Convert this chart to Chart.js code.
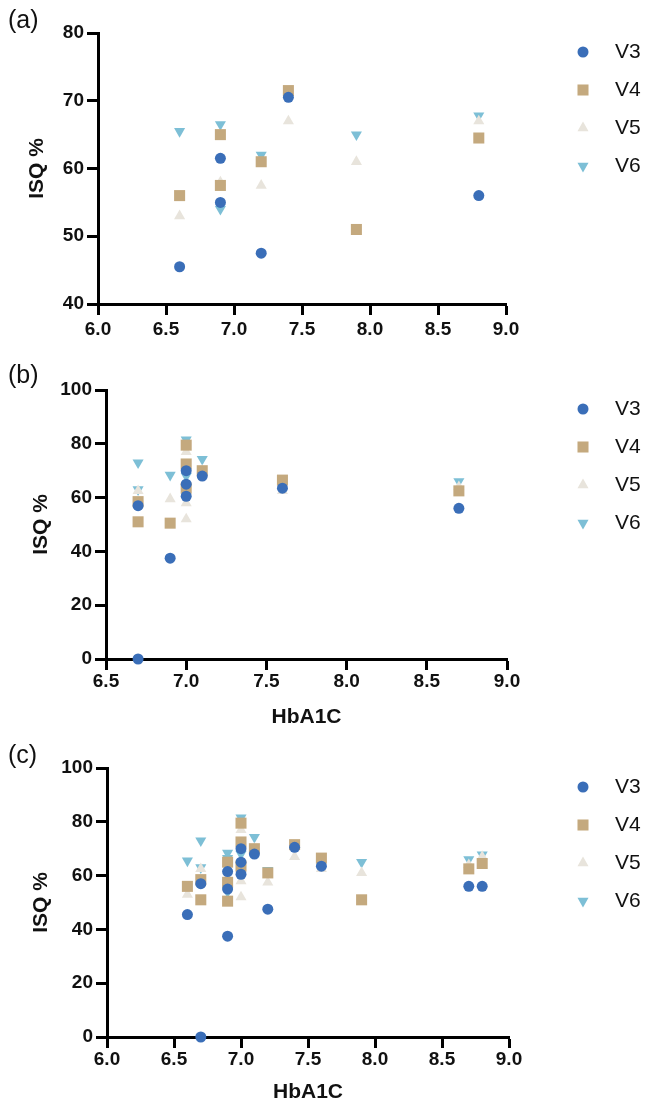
<!DOCTYPE html>
<html>
<head>
<meta charset="utf-8">
<script src="https://cdn.jsdelivr.net/npm/chart.js@4"></script>
<style>
body { margin:0; background:#fff; width:646px; height:1105px; position:relative; overflow:hidden; font-family:'Liberation Sans', Arial, sans-serif; }
canvas { position:absolute; left:0; }
.tag { position:absolute; left:8px; font-size:25px; line-height:25px; color:#111; }
</style>
</head>
<body>
<canvas id="chartA" width="646" height="350" style="top:0"></canvas>
<canvas id="chartB" width="646" height="385" style="top:350px"></canvas>
<canvas id="chartC" width="646" height="370" style="top:735px"></canvas>
<div class="tag" style="top:7px">(a)</div>
<div class="tag" style="top:362px">(b)</div>
<div class="tag" style="top:742px">(c)</div>
<script>
var seriesNames = ['V3', 'V4', 'V5', 'V6'];
var seriesColors = ['#3a6eb8', '#c4a97e', '#e8e4dc', '#7dbfd6'];

// panel (a): [HbA1C, ISQ %]
var aV3 = [[6.6, 45.5], [6.9, 61.5], [6.9, 55], [7.2, 47.5], [7.4, 70.5], [8.8, 56]];
var aV4 = [[6.6, 56], [6.9, 65], [6.9, 57.5], [7.2, 61], [7.4, 71.5], [7.9, 51], [8.8, 64.5]];
var aV5 = [[6.6, 53], [6.9, 58], [7.2, 57.5], [7.4, 67], [7.9, 61], [8.8, 67]];
var aV6 = [[6.6, 65.5], [6.9, 66.5], [6.9, 54], [7.2, 62], [7.9, 65], [8.8, 67.8]];

// panel (b)
var bV3 = [[6.7, 0], [6.7, 57], [6.9, 37.5], [7.0, 70], [7.0, 65], [7.0, 60.5], [7.1, 68], [7.6, 63.5], [8.7, 56]];
var bV4 = [[6.7, 51], [6.7, 58.5], [6.9, 50.5], [7.0, 79.5], [7.0, 72.5], [7.0, 63.5], [7.1, 70], [7.6, 66.5], [8.7, 62.5]];
var bV5 = [[6.7, 62.5], [6.9, 59.5], [7.0, 77], [7.0, 58], [7.0, 52], [7.1, 70], [7.6, 62.5], [8.7, 64]];
var bV6 = [[6.7, 73], [6.7, 63], [6.9, 68.4], [7.0, 81.5], [7.0, 68], [7.1, 74.3], [8.7, 66]];

// panel (c) is (a) and (b) together
var cV3 = aV3.concat(bV3);
var cV4 = aV4.concat(bV4);
var cV5 = aV5.concat(bV5);
var cV6 = aV6.concat(bV6);

var font = "'Liberation Sans', Arial, sans-serif";
Chart.defaults.font.family = font;
Chart.defaults.color = '#111';

var shapes = ['circle', 'rect', 'triangle', 'triangle'];
var rotations = [0, 0, 0, 180];
var radii = [5.5, 7.8, 6.4, 6.4];

var sideLegend = {
  id: 'sideLegend',
  afterDraw: function(chart) {
    var ctx = chart.ctx;
    var top = chart.chartArea.top + 19;
    chart.data.datasets.forEach(function(ds, i) {
      var y = top + i * 38;
      ctx.save();
      ctx.fillStyle = ds.backgroundColor;
      Chart.helpers.drawPoint(ctx, {pointStyle: ds.pointStyle, rotation: ds.pointRotation, radius: ds.pointRadius, borderWidth: 0}, 583, y);
      ctx.fillStyle = '#111';
      ctx.font = '21px ' + font;
      ctx.textBaseline = 'middle';
      ctx.fillText(ds.label, 615, y);
      ctx.restore();
    });
  }
};

function toPoints(arr) {
  return arr.map(function(p) { return {x: p[0], y: p[1]}; });
}

function makePanel(id, series, o) {
  var canvas = document.getElementById(id);
  var h = canvas.height;
  var datasets = series.map(function(s, i) {
    return {
      label: seriesNames[i],
      data: toPoints(s),
      backgroundColor: seriesColors[i],
      borderColor: seriesColors[i],
      borderWidth: 0,
      pointStyle: shapes[i],
      pointRotation: rotations[i],
      pointRadius: radii[i],
      pointHoverRadius: radii[i],
      clip: false
    };
  });
  var axisLine = {display: true, color: '#000', width: 3};
  var grid = {drawOnChartArea: false, drawTicks: true, tickLength: 11, tickWidth: 3, tickColor: '#000'};
  new Chart(canvas, {
    type: 'scatter',
    data: {datasets: datasets},
    options: {
      responsive: false,
      animation: false,
      layout: {padding: {top: o.top, right: 646 - o.right, left: 0, bottom: 0}},
      plugins: {legend: {display: false}, tooltip: {enabled: false}},
      scales: {
        x: {
          type: 'linear', min: o.xMin, max: o.xMax,
          border: axisLine, grid: grid,
          ticks: {stepSize: 0.5, padding: o.xPad, color: '#111', font: {size: 19, weight: 'bold'},
            callback: function(v) { return v.toFixed(1); }},
          title: {display: !!o.xTitle, text: o.xTitle || '', color: '#111', font: {size: 21, weight: 'bold', lineHeight: 1.2}, padding: {top: 0, bottom: o.xTitlePad}},
          afterFit: function(scale) { scale.height = h - o.bottom; }
        },
        y: {
          min: o.yMin, max: o.yMax,
          border: axisLine, grid: grid,
          ticks: {stepSize: o.yStep, padding: 3, color: '#111', font: {size: 19, weight: 'bold'}},
          title: {display: true, text: 'ISQ %', color: '#111', font: {size: 21, weight: 'bold', lineHeight: 1.2}, padding: {top: o.yTitleX - 12.6, bottom: 0}},
          afterFit: function(scale) { scale.width = o.left; }
        }
      }
    },
    plugins: [sideLegend]
  });
}

makePanel('chartA', [aV3, aV4, aV5, aV6], {xMin: 6, xMax: 9, yMin: 40, yMax: 80, yStep: 10,
  top: 33, bottom: 304, left: 98, right: 506, xPad: 3, yTitleX: 37});
makePanel('chartB', [bV3, bV4, bV5, bV6], {xMin: 6.5, xMax: 9, yMin: 0, yMax: 100, yStep: 20,
  top: 40, bottom: 309, left: 106, right: 507, xPad: 0, xTitle: 'HbA1C', xTitlePad: 5, yTitleX: 41});
makePanel('chartC', [cV3, cV4, cV5, cV6], {xMin: 6, xMax: 9, yMin: 0, yMax: 100, yStep: 20,
  top: 33, bottom: 302, left: 107, right: 509, xPad: 0, xTitle: 'HbA1C', xTitlePad: 0, yTitleX: 41});
</script>
</body>
</html>
